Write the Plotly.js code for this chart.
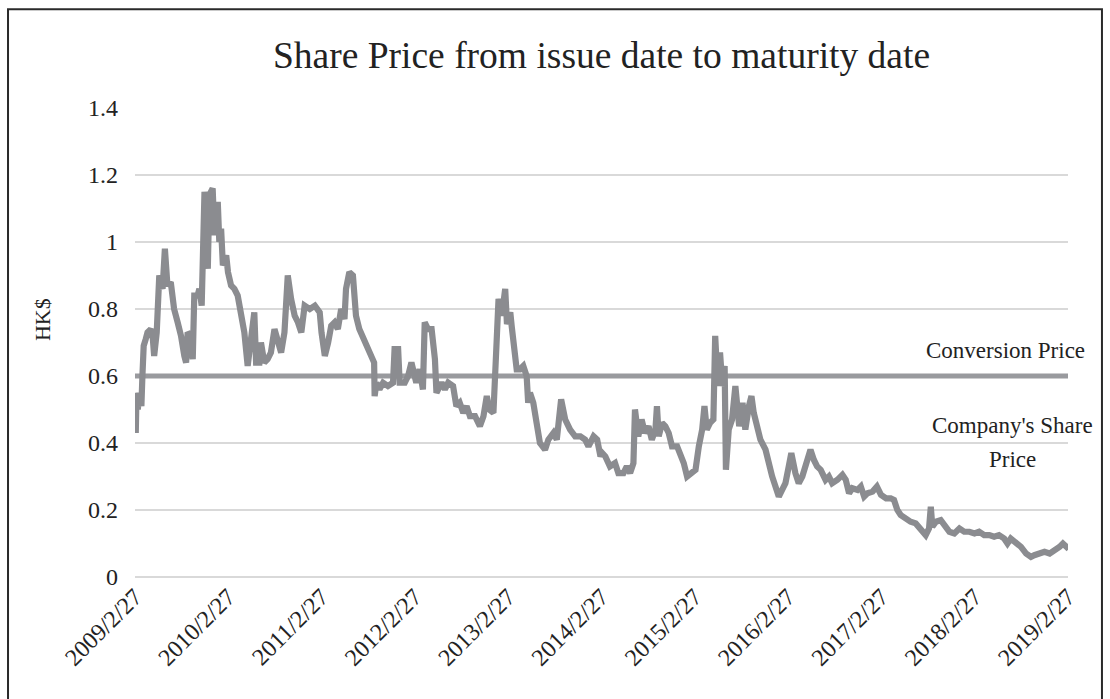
<!DOCTYPE html>
<html>
<head>
<meta charset="utf-8">
<script src="https://cdn.plot.ly/plotly-3.0.1.min.js"></script>
<style>
  html, body { margin: 0; padding: 0; background: #ffffff; }
  #chart { width: 1110px; height: 699px; }
</style>
</head>
<body>
<div id="chart"></div>
<script>
// ---- Data ----
var chartTitle = "Share Price from issue date to maturity date";
var yTitle = "HK$";
var seriesNames = ["Company's Share Price", "Conversion Price"];

var tickDates = ["2009-02-27","2010-02-27","2011-02-27","2012-02-27","2013-02-27","2014-02-27",
                 "2015-02-27","2016-02-27","2017-02-27","2018-02-27","2019-02-27"];
var tickLabels = ["2009/2/27","2010/2/27","2011/2/27","2012/2/27","2013/2/27","2014/2/27",
                  "2015/2/27","2016/2/27","2017/2/27","2018/2/27","2019/2/27"];

var conversionPrice = 0.6;
var issueDate = "2009-02-27";
var maturityDate = "2019-02-27";

var priceDates = [
 "2009-02-27","2009-03-02","2009-03-05","2009-03-10","2009-03-16","2009-03-24","2009-03-28","2009-04-02",
 "2009-04-10","2009-04-17","2009-04-30","2009-05-08","2009-05-13","2009-05-23","2009-06-02","2009-06-15",
 "2009-06-24","2009-07-04","2009-07-17","2009-07-30","2009-08-13","2009-08-26","2009-09-08","2009-09-15",
 "2009-09-21","2009-10-04","2009-10-11","2009-10-17","2009-10-30","2009-11-06","2009-11-15","2009-11-26",
 "2009-12-09","2009-12-15","2009-12-28","2010-01-04","2010-01-17","2010-01-23","2010-01-30","2010-02-06",
 "2010-02-19","2010-02-26","2010-03-10","2010-03-23","2010-04-05","2010-04-18","2010-05-01","2010-05-14",
 "2010-05-27","2010-06-09","2010-06-16","2010-06-29","2010-07-05","2010-07-18","2010-07-31","2010-08-13",
 "2010-08-27","2010-09-09","2010-09-22","2010-10-05","2010-10-18","2010-10-31","2010-11-14","2010-11-27",
 "2010-12-10","2010-12-23","2011-01-12","2011-02-01","2011-02-20","2011-02-27","2011-03-12","2011-03-25",
 "2011-04-06","2011-04-19","2011-05-02","2011-05-15","2011-05-28","2011-06-03","2011-06-16","2011-06-30",
 "2011-07-12","2011-07-25","2011-08-10","2011-08-27","2011-09-10","2011-09-21","2011-09-23","2011-09-30",
 "2011-10-12","2011-10-26","2011-11-14","2011-12-04","2011-12-10","2011-12-24","2011-12-30","2012-01-19",
 "2012-02-01","2012-02-14","2012-03-04","2012-03-17","2012-03-30","2012-04-06","2012-04-19","2012-05-03",
 "2012-05-16","2012-05-22","2012-06-11","2012-06-24","2012-07-07","2012-07-26","2012-08-08","2012-08-21",
 "2012-09-04","2012-09-17","2012-09-30","2012-10-20","2012-11-08","2012-11-22","2012-12-05","2012-12-15",
 "2012-12-31","2013-01-13","2013-01-20","2013-02-02","2013-02-15","2013-02-22","2013-03-07","2013-03-13",
 "2013-03-26","2013-04-01","2013-04-14","2013-04-27","2013-05-10","2013-05-16","2013-05-23","2013-06-05",
 "2013-06-18","2013-07-01","2013-07-21","2013-08-03","2013-08-23","2013-09-05","2013-09-22","2013-10-08",
 "2013-10-27","2013-11-16","2013-12-06","2013-12-25","2014-01-07","2014-01-27","2014-02-10","2014-02-23",
 "2014-03-02","2014-03-14","2014-04-01","2014-04-21","2014-05-04","2014-05-24","2014-06-06","2014-06-19",
 "2014-07-02","2014-07-08","2014-07-21","2014-08-03","2014-08-16","2014-08-30","2014-09-12","2014-09-26",
 "2014-10-02","2014-10-09","2014-10-22","2014-11-04","2014-11-17","2014-11-30","2014-12-20","2015-01-02",
 "2015-01-15","2015-01-28","2015-02-16","2015-03-02","2015-03-15","2015-03-28","2015-04-06","2015-04-15",
 "2015-04-28","2015-05-11","2015-05-18","2015-05-28","2015-06-06","2015-06-15","2015-06-24","2015-06-29",
 "2015-07-10","2015-07-23","2015-08-05","2015-08-11","2015-08-20","2015-09-02","2015-09-13","2015-09-27",
 "2015-10-07","2015-10-16","2015-10-29","2015-11-11","2015-12-01","2015-12-14","2015-12-27","2016-01-09",
 "2016-01-22","2016-02-04","2016-02-17","2016-03-01","2016-03-11","2016-03-27","2016-04-09","2016-04-23",
 "2016-05-06","2016-05-25","2016-06-07","2016-06-20","2016-07-04","2016-07-23","2016-08-05","2016-08-18",
 "2016-09-07","2016-09-27","2016-10-10","2016-10-23","2016-11-05","2016-11-25","2016-12-08","2016-12-21",
 "2017-01-03","2017-01-23","2017-02-09","2017-02-25","2017-03-17","2017-04-04","2017-04-17","2017-04-30",
 "2017-05-13","2017-06-01","2017-06-21","2017-07-11","2017-07-31","2017-08-19","2017-09-01","2017-09-08",
 "2017-09-14","2017-09-28","2017-10-17","2017-10-30","2017-11-20","2017-12-09","2017-12-29","2018-01-17",
 "2018-02-06","2018-02-26","2018-03-16","2018-04-05","2018-04-25","2018-05-14","2018-06-02","2018-06-22",
 "2018-07-05","2018-07-18","2018-08-07","2018-08-27","2018-09-16","2018-10-05","2018-10-18","2018-11-07",
 "2018-11-27","2018-12-17","2018-12-29","2019-01-11","2019-01-25","2019-02-07","2019-02-21","2019-02-27"
];
var priceValues = [
 0.50,0.43,0.55,0.50,0.55,0.51,0.60,0.69,
 0.71,0.73,0.74,0.71,0.66,0.73,0.90,0.86,
 0.98,0.87,0.88,0.80,0.76,0.72,0.66,0.64,
 0.73,0.72,0.65,0.84,0.84,0.86,0.81,1.15,
 0.92,1.14,1.16,1.02,1.12,1.00,1.04,0.93,
 0.96,0.91,0.87,0.86,0.84,0.78,0.73,0.63,
 0.70,0.79,0.64,0.64,0.70,0.64,0.65,0.67,
 0.74,0.70,0.67,0.73,0.90,0.83,0.78,0.76,
 0.73,0.81,0.80,0.81,0.79,0.73,0.66,0.70,
 0.75,0.76,0.74,0.80,0.77,0.86,0.91,0.90,
 0.78,0.74,0.71,0.68,0.65,0.64,0.54,0.58,
 0.56,0.58,0.57,0.58,0.68,0.68,0.58,0.58,
 0.60,0.64,0.58,0.62,0.56,0.76,0.74,0.74,
 0.65,0.55,0.58,0.56,0.58,0.57,0.51,0.52,
 0.49,0.51,0.48,0.48,0.45,0.48,0.54,0.50,
 0.49,0.76,0.83,0.78,0.86,0.755,0.79,0.745,
 0.68,0.62,0.62,0.63,0.60,0.52,0.55,0.52,
 0.46,0.40,0.38,0.41,0.43,0.41,0.53,0.47,
 0.44,0.42,0.42,0.41,0.39,0.42,0.41,0.36,
 0.37,0.36,0.33,0.34,0.31,0.31,0.33,0.31,
 0.34,0.50,0.42,0.47,0.43,0.45,0.41,0.44,
 0.51,0.42,0.46,0.45,0.43,0.39,0.39,0.37,
 0.34,0.30,0.31,0.32,0.39,0.44,0.51,0.44,
 0.46,0.47,0.72,0.57,0.67,0.57,0.63,0.32,
 0.44,0.47,0.57,0.51,0.45,0.52,0.44,0.51,
 0.54,0.49,0.45,0.41,0.38,0.33,0.30,0.27,
 0.24,0.26,0.28,0.33,0.37,0.31,0.28,0.30,
 0.33,0.38,0.35,0.33,0.32,0.29,0.30,0.28,
 0.29,0.305,0.29,0.25,0.265,0.26,0.27,0.24,
 0.25,0.255,0.27,0.245,0.235,0.235,0.23,0.20,
 0.185,0.175,0.165,0.16,0.145,0.125,0.145,0.21,
 0.15,0.165,0.17,0.155,0.135,0.13,0.145,0.135,
 0.135,0.13,0.135,0.125,0.125,0.12,0.125,0.115,
 0.10,0.115,0.105,0.09,0.07,0.06,0.065,0.07,
 0.075,0.07,0.075,0.085,0.09,0.10,0.09,0.095
];

// ---- Styling ----
var serif = "'Liberation Serif', 'Times New Roman', 'DejaVu Serif', serif";
var textColor = "#222222";

var sharePrice = {
  type: "scatter", mode: "lines", name: seriesNames[0],
  x: priceDates, y: priceValues,
  line: { color: "#8b8c90", width: 6.2, shape: "linear" },
  hoverinfo: "x+y"
};
var convLine = {
  type: "scatter", mode: "lines", name: seriesNames[1],
  x: [issueDate, maturityDate], y: [conversionPrice, conversionPrice],
  line: { color: "#999a9e", width: 5 },
  hoverinfo: "y"
};

var layout = {
  width: 1110, height: 699,
  paper_bgcolor: "#ffffff", plot_bgcolor: "#ffffff",
  margin: { l: 135, r: 42, t: 108, b: 122 },
  showlegend: false,
  font: { family: serif, color: textColor, size: 23 },
  title: {
    text: chartTitle,
    font: { family: serif, size: 37.5, color: textColor },
    x: 0.5, xref: "paper", xanchor: "center",
    y: 0.921, yref: "container", yanchor: "middle"
  },
  xaxis: {
    type: "date",
    range: [issueDate, maturityDate],
    tickmode: "array", tickvals: tickDates, ticktext: tickLabels,
    tickangle: -45,
    tickfont: { family: serif, size: 24, color: textColor },
    showgrid: false, zeroline: false, showline: false,
    ticks: "", fixedrange: true
  },
  yaxis: {
    range: [0, 1.4], dtick: 0.2, tick0: 0,
    tickfont: { family: serif, size: 24, color: textColor },
    showgrid: true, gridcolor: "#d9d9d9", gridwidth: 1.3,
    zeroline: true, zerolinecolor: "#d9d9d9", zerolinewidth: 1.3,
    showline: false, ticks: "", ticklabelstandoff: 16, fixedrange: true
  },
  shapes: [{
    type: "rect", xref: "paper", yref: "paper",
    x0: -0.1361, x1: 1.0364, y0: -0.35, y1: 1.2106,
    line: { color: "#2a2a2a", width: 2 }, fillcolor: "rgba(0,0,0,0)", layer: "above"
  }],
  annotations: [
    { text: yTitle, xref: "paper", yref: "paper", x: -0.0997, y: 0.55, textangle: -90,
      showarrow: false, font: { family: serif, size: 22, color: textColor }, xanchor: "center", yanchor: "middle" },
    { text: "Conversion Price", xref: "paper", yref: "paper", x: 0.9325, y: 0.484,
      showarrow: false, font: { family: serif, size: 23, color: textColor }, xanchor: "center", yanchor: "middle" },
    { text: "Company's Share", xref: "paper", yref: "paper", x: 0.94, y: 0.324,
      showarrow: false, font: { family: serif, size: 23, color: textColor }, xanchor: "center", yanchor: "middle" },
    { text: "Price", xref: "paper", yref: "paper", x: 0.94, y: 0.2495,
      showarrow: false, font: { family: serif, size: 23, color: textColor }, xanchor: "center", yanchor: "middle" }
  ]
};

Plotly.newPlot("chart", [convLine, sharePrice], layout, { displayModeBar: false, staticPlot: true });
</script>
</body>
</html>
